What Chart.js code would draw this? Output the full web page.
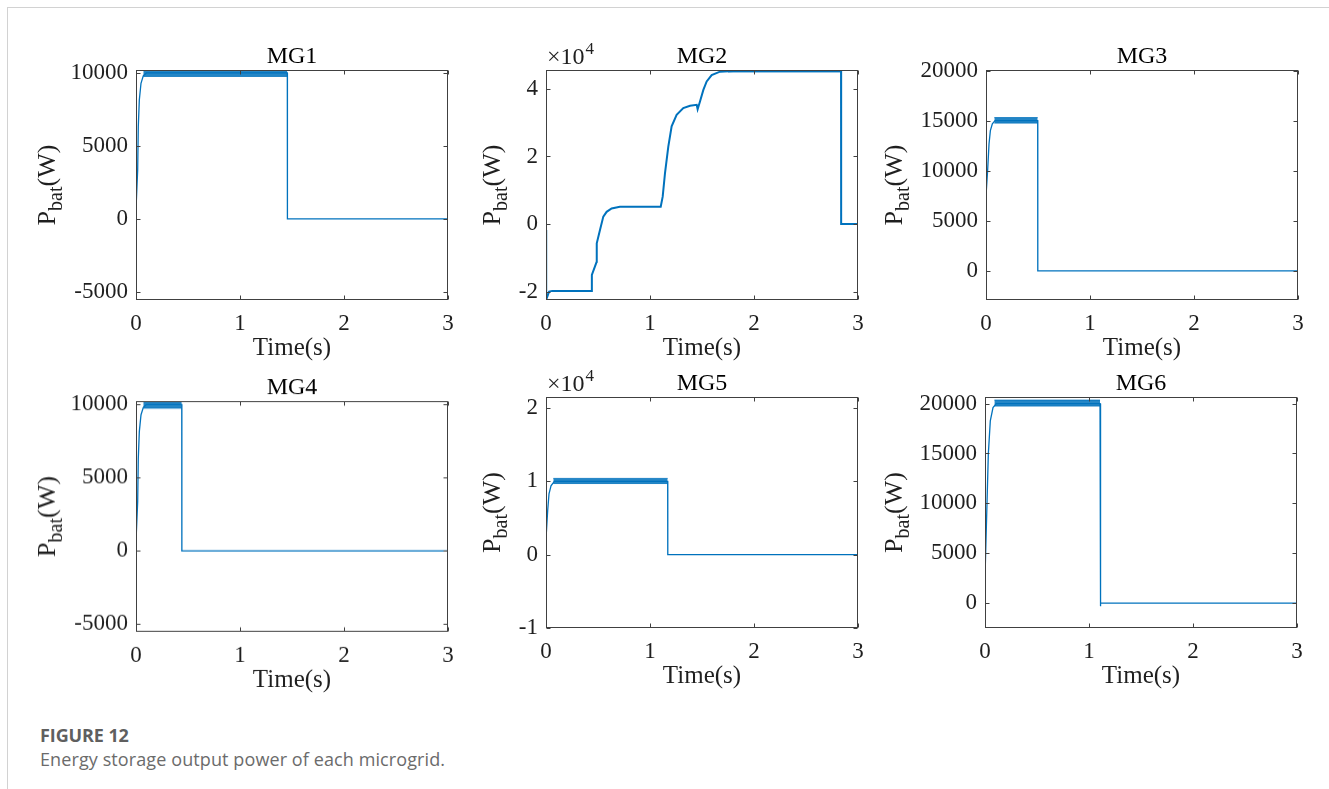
<!DOCTYPE html>
<html>
<head>
<meta charset="utf-8">
<script src="https://cdn.jsdelivr.net/npm/chart.js@4.4.0/dist/chart.umd.min.js"></script>
<style>
  body{margin:0;background:#fff;width:1329px;height:789px;position:relative;overflow:hidden;font-family:"Open Sans",sans-serif}
  .sheet{position:absolute;left:7px;top:7px;right:0;bottom:0;border-left:1px solid #d2d2d2;border-top:1px solid #d2d2d2}
  .panel{position:absolute}
  .fig-no{position:absolute;left:40px;top:723px;font-size:18px;font-weight:700;color:#5f5f5f;line-height:24px;letter-spacing:-0.1px}
  .fig-txt{position:absolute;left:40px;top:747px;font-size:18px;color:#6b6b6b;line-height:24px;letter-spacing:0.1px}
</style>
</head>
<body>
<div class="sheet"></div>
<canvas id="mg1" class="panel"></canvas>
<canvas id="mg2" class="panel"></canvas>
<canvas id="mg3" class="panel"></canvas>
<canvas id="mg4" class="panel"></canvas>
<canvas id="mg5" class="panel"></canvas>
<canvas id="mg6" class="panel"></canvas>
<div class="fig-no">FIGURE 12</div>
<div class="fig-txt">Energy storage output power of each microgrid.</div>

<script>
// ---- battery power traces, time in s, power in W ----
const mg1Time  = [0, 0.001, 0.003, 0.016, 0.022, 0.032, 0.048, 0.07, 0.1, 1.455, 1.456, 3];
const mg1Power = [0, -5550, 1000, 3340, 6310, 8150, 9290, 9800, 10000, 10000, 0, 0];
const mg1BandTime = [0.07, 1.455];
const mg1BandHigh = [10200, 10200];
const mg1BandLow  = [9760, 9760];

const mg2Time  = [0, 0.002, 0.03, 0.06, 0.44, 0.441, 0.487, 0.488, 0.519, 0.551, 0.583, 0.631, 0.71,
                  1.103, 1.122, 1.144, 1.176, 1.208, 1.256, 1.32, 1.385, 1.449, 1.458, 1.48, 1.513,
                  1.545, 1.593, 1.673, 1.8, 2.837, 2.838, 3];
const mg2Power = [-1800, -22400, -20000, -19800, -19800, -15100, -11200, -5700, -1800, 2200, 3600, 4600, 5100,
                  5100, 8100, 15000, 22900, 28900, 32300, 34300, 35000, 35300, 34000, 36200, 39700,
                  42200, 44100, 45100, 45300, 45300, 0, 0];
const mg2BandTime = [1.75, 2.837];
const mg2BandHigh = [45600, 45600];
const mg2BandLow  = [45000, 45000];

const mg3Time  = [0, 0.0005, 0.003, 0.016, 0.029, 0.042, 0.061, 0.087, 0.497, 0.498, 3];
const mg3Power = [0, -2900, 7770, 10100, 12670, 14000, 14670, 15000, 15000, 0, 0];
const mg3BandTime = [0.08, 0.497];
const mg3BandHigh = [15300, 15300];
const mg3BandLow  = [14750, 14750];

const mg4Time  = [0, 0.001, 0.003, 0.016, 0.022, 0.032, 0.048, 0.07, 0.1, 0.44, 0.441, 3];
const mg4Power = [0, -5520, 1000, 3340, 6310, 8150, 9290, 9800, 10000, 10000, 0, 0];
const mg4BandTime = [0.07, 0.44];
const mg4BandHigh = [10230, 10230];
const mg4BandLow  = [9750, 9750];

const mg5Time  = [0, 0.001, 0.016, 0.029, 0.048, 0.08, 1.17, 1.171, 3];
const mg5Power = [-5770, 2400, 6000, 8300, 9400, 10000, 10000, 0, 0];
const mg5BandTime = [0.07, 1.17];
const mg5BandHigh = [10400, 10400];
const mg5BandLow  = [9700, 9700];

const mg6Time  = [0, 0.0005, 0.003, 0.019, 0.032, 0.051, 0.077, 0.109, 1.106, 1.107, 1.115, 1.13, 3];
const mg6Power = [0, -2500, 3270, 9940, 14940, 18270, 19600, 20000, 20000, -330, 0, 0, 0];
const mg6BandTime = [0.09, 1.106];
const mg6BandHigh = [20350, 20350];
const mg6BandLow  = [19750, 19750];

// ---- axes ----
const panelNames = ['MG1', 'MG2', 'MG3', 'MG4', 'MG5', 'MG6'];
const timeTicks  = [0, 1, 2, 3];
const mg1Ticks = [-5000, 0, 5000, 10000];
const mg2Ticks = [-20000, 0, 20000, 40000];
const mg3Ticks = [0, 5000, 10000, 15000, 20000];
const mg4Ticks = [-5000, 0, 5000, 10000];
const mg5Ticks = [-10000, 0, 10000, 20000];
const mg6Ticks = [0, 5000, 10000, 15000, 20000];
const yMin  = [-5550, -22500, -2900, -5520, -10000, -2500];
const yMax  = [10200,  45600, 20050, 10230,  21500, 20660];
const yExp  = [0, 4, 0, 0, 4, 0];   // ×10^n shown above the axis

// plot box of every panel on the page: left, top, right, bottom
const boxes = [
  [136, 70, 448, 300], [546, 70, 858, 300], [986, 70, 1298, 300],
  [136, 401, 448, 631.5], [546, 397, 858, 628], [985, 397, 1297, 628]
];
const ylabelGap = [81, 46, 84, 81, 46, 83];

const SERIF = '"Liberation Serif","Times New Roman",serif';
const INK   = '#1f1f1f';
const BLUE  = '#0072BD';
const SIDE = 110, TOP = 40, BOTTOM = 70;

const pts = (t, v) => t.map((x, i) => ({x, y: v[i]}));

const traces = [
  [mg1Time, mg1Power, mg1BandTime, mg1BandHigh, mg1BandLow, mg1Ticks],
  [mg2Time, mg2Power, mg2BandTime, mg2BandHigh, mg2BandLow, mg2Ticks],
  [mg3Time, mg3Power, mg3BandTime, mg3BandHigh, mg3BandLow, mg3Ticks],
  [mg4Time, mg4Power, mg4BandTime, mg4BandHigh, mg4BandLow, mg4Ticks],
  [mg5Time, mg5Power, mg5BandTime, mg5BandHigh, mg5BandLow, mg5Ticks],
  [mg6Time, mg6Power, mg6BandTime, mg6BandHigh, mg6BandLow, mg6Ticks]
];

// box, inward ticks, P_bat label and the exponent note
const matlabAxes = {
  id: 'matlabAxes',
  afterDraw(chart, args, opts){
    const {ctx, chartArea: a, scales: {x, y}} = chart;
    const tl = 4;
    ctx.save();
    ctx.strokeStyle = '#404040';
    ctx.lineWidth = 1;
    const L = Math.round(a.left) + 0.5, R = Math.round(a.right) - 0.5;
    const T = Math.round(a.top) + 0.5,  B = Math.round(a.bottom) - 0.5;
    ctx.strokeRect(L, T, R - L, B - T);
    ctx.beginPath();
    x.ticks.forEach(t => {
      const px = Math.round(x.getPixelForValue(t.value)) + 0.5;
      ctx.moveTo(px, B); ctx.lineTo(px, B - tl);
      ctx.moveTo(px, T); ctx.lineTo(px, T + tl);
    });
    y.ticks.forEach(t => {
      const py = Math.round(y.getPixelForValue(t.value)) + 0.5;
      ctx.moveTo(L, py); ctx.lineTo(L + tl, py);
      ctx.moveTo(R, py); ctx.lineTo(R - tl, py);
    });
    ctx.stroke();

    // y label: P_bat(W), read bottom to top
    ctx.fillStyle = INK;
    ctx.textBaseline = 'alphabetic';
    const big = '26px ' + SERIF, small = '20px ' + SERIF;
    ctx.font = big;   const wP = ctx.measureText('P').width, wW = ctx.measureText('(W)').width;
    ctx.font = small; const wb = ctx.measureText('bat').width;
    const total = wP + wb + wW;
    ctx.translate(a.left - opts.gap, (a.top + a.bottom) / 2);
    ctx.rotate(-Math.PI / 2);
    let cx = -total / 2;
    ctx.font = big;   ctx.fillText('P', cx, 0); cx += wP;
    ctx.font = small; ctx.fillText('bat', cx, 7); cx += wb;
    ctx.font = big;   ctx.fillText('(W)', cx, 0);
    ctx.setTransform(1, 0, 0, 1, 0, 0);

    if (opts.exp){
      ctx.font = '24px ' + SERIF;
      ctx.fillText('\u00d710', a.left + 1, a.top - 6);
      const w = ctx.measureText('\u00d710').width;
      ctx.font = '17px ' + SERIF;
      ctx.fillText(String(opts.exp), a.left + 2 + w, a.top - 16);
    }
    ctx.restore();
  }
};

panelNames.forEach((name, i) => {
  const [L, T, R, B] = boxes[i];
  const cv = document.getElementById('mg' + (i + 1));
  const w = (R - L) + 2 * SIDE, h = (B - T) + TOP + BOTTOM;
  cv.width = w; cv.height = h;
  cv.style.left = (L - SIDE) + 'px';
  cv.style.top  = (T - TOP) + 'px';
  cv.style.width = w + 'px'; cv.style.height = h + 'px';

  const [tt, pp, bt, bh, bl, yt] = traces[i];
  const scale = Math.pow(10, yExp[i]);

  new Chart(cv, {
    type: 'line',
    data: {
      datasets: [
        {data: pts(tt, pp), borderColor: BLUE, borderWidth: i === 1 ? 2 : 1.3,
         pointRadius: 0, fill: false, tension: 0},
        {data: pts(bt, bh), borderColor: 'rgba(0,114,189,0.8)', borderWidth: 1, pointRadius: 0, fill: '+1',
         backgroundColor: 'rgba(0,114,189,0.86)'},
        {data: pts(bt, bl), borderColor: 'rgba(0,114,189,0.8)', borderWidth: 1, pointRadius: 0, fill: false}
      ]
    },
    options: {
      responsive: false, animation: false, devicePixelRatio: 1,
      layout: {padding: {left: 0, right: SIDE, top: 0, bottom: 0}},
      plugins: {
        legend: {display: false}, tooltip: {enabled: false},
        title: {display: true, text: name, color: '#000', fullSize: false,
                font: {family: SERIF, size: 24, weight: 'normal', lineHeight: 1},
                padding: {top: 15, bottom: 1}},
        matlabAxes: {gap: ylabelGap[i], exp: yExp[i]}
      },
      scales: {
        x: {
          type: 'linear', min: timeTicks[0], max: timeTicks[timeTicks.length - 1],
          grid: {display: false, drawTicks: false}, border: {display: false},
          afterBuildTicks: s => { s.ticks = timeTicks.map(v => ({value: v})); },
          ticks: {font: {family: SERIF, size: 23}, color: INK, padding: 10, maxRotation: 0, autoSkip: false},
          title: {display: true, text: 'Time(s)', color: INK, font: {family: SERIF, size: 25, lineHeight: 1.2},
                  padding: {top: 0, bottom: 7}},
          afterFit: s => { s.height = BOTTOM; }
        },
        y: {
          type: 'linear', min: yMin[i], max: yMax[i],
          grid: {display: false, drawTicks: false}, border: {display: false},
          afterBuildTicks: s => { s.ticks = yt.map(v => ({value: v})); },
          ticks: {font: {family: SERIF, size: 23}, color: INK, padding: 8, autoSkip: false,
                  callback: v => String(v / scale)},
          afterFit: s => { s.width = SIDE; }
        }
      }
    },
    plugins: [matlabAxes]
  });
});
</script>
</body>
</html>
